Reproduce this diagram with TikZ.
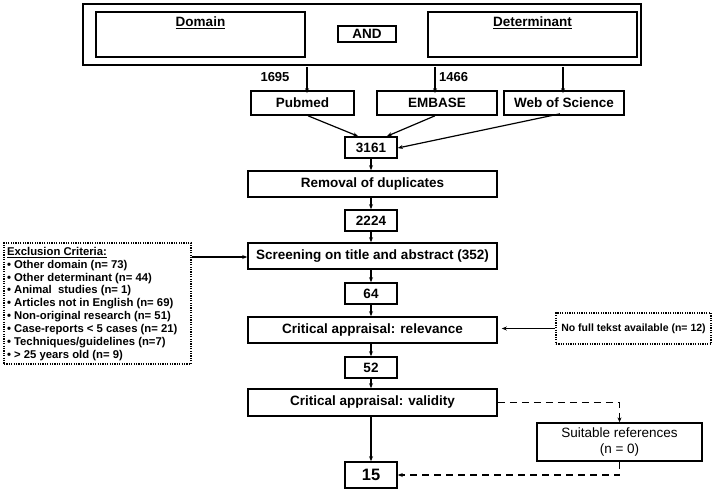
\documentclass[tikz,border=0pt]{standalone}
\usepackage{fontspec}
\setmainfont{Liberation Sans}
\usetikzlibrary{arrows.meta}
\begin{document}
\begin{tikzpicture}[x=1pt,y=-1pt,
  box/.style={draw,line width=1.6pt,inner sep=0pt,font=\fontsize{13.5}{16}\selectfont\bfseries},
  plainbox/.style={draw,line width=1.3pt,inner sep=0pt,font=\fontsize{13.5}{16}\selectfont,align=center},
  dotbox/.style={draw,line width=1.3pt,dash pattern=on 1.2pt off 1.2pt,inner sep=3pt,font=\fontsize{10.5}{12.9}\selectfont\bfseries},
  lbl/.style={inner sep=0pt,font=\fontsize{13}{15}\selectfont\bfseries},
  arr/.style={-{Stealth[length=5pt,width=4pt]},line width=1.2pt},
  darr/.style={-{Stealth[length=5pt,width=4pt]},line width=1.3pt,dash pattern=on 7pt off 5pt}]
\useasboundingbox (0,0) rectangle (715,494);

% search block
\node[draw,line width=1.4pt,minimum width=558pt,minimum height=61pt] (search) at (362,34.5) {};
\node[box,minimum width=209pt,minimum height=45pt] (dom) at (200.5,34.5) {};
\node[box,minimum width=209pt,minimum height=45pt] (det) at (532.5,34.5) {};
\node[box,minimum width=58pt,minimum height=16pt] (and) at (367,34) {AND};
\node[lbl,font=\fontsize{13.5}{16}\selectfont\bfseries] (domt) at (200.5,23) {\underline{Domain}};
\node[lbl,font=\fontsize{13.5}{16}\selectfont\bfseries] (dett) at (532.5,23) {\underline{Determinant}};

% databases
\node[box,minimum width=103pt,minimum height=24pt] (pub) at (302.5,103) {Pubmed};
\node[box,minimum width=120pt,minimum height=24pt] (emb) at (437,103) {EMBASE};
\node[box,minimum width=120pt,minimum height=24pt] (wos) at (564,103) {Web of Science};

\coordinate (pa) at (307,67);
\coordinate (ea) at (435,67);
\coordinate (wa) at (563,67);
\draw[arr] (pa) -- ([yshift=-3pt]pa |- pub.north);
\draw[arr] (ea) -- ([yshift=-3pt]ea |- emb.north);
\draw[arr] (wa) -- ([yshift=-3pt]wa |- wos.north);
\node[lbl] (l1695) at (275,77) {1695};
\node[lbl,anchor=west] (l1466) at (439,77) {1466};

% main column
\node[box,minimum width=52pt,minimum height=21pt] (n3161) at (371,147.5) {3161};
\node[box,minimum width=249pt,minimum height=26pt] (rem) at (372.5,184) {Removal of duplicates};
\node[box,minimum width=52pt,minimum height=21pt] (n2224) at (371,220.5) {2224};
\node[box,minimum width=249pt,minimum height=26pt] (scr) at (372.5,256) {Screening on title and abstract (352)};
\node[box,minimum width=52pt,minimum height=21pt] (n64) at (371,293.5) {64};
\node[box,minimum width=249pt,minimum height=26pt] (rel) at (372.5,330) {Critical appraisal: relevance};
\node[box,minimum width=52pt,minimum height=21pt] (n52) at (371,367.5) {52};
\node[box,minimum width=249pt,minimum height=27pt] (val) at (372.5,402.5) {Critical appraisal: validity};
\node[box,minimum width=52pt,minimum height=26pt,font=\fontsize{16.5}{18}\selectfont\bfseries] (n15) at (371,475) {15};
\node[plainbox,minimum width=165pt,minimum height=38pt] (suit) at (619.5,442) {Suitable references\\(n = 0)};

% side boxes
\node[dotbox,minimum width=187pt,minimum height=121pt] (excl) at (97.5,303.5) {};
\node[anchor=north west,inner sep=0pt,align=left,font=\fontsize{11.3}{12.9}\selectfont\bfseries] (excltxt) at ([xshift=3.5pt,yshift=-4.5pt]excl.north west) {%
\underline{Exclusion Criteria:}\\
• Other domain (n= 73)\\
• Other determinant (n= 44)\\
• Animal\ \ studies (n= 1)\\
• Articles not in English (n= 69)\\
• Non-original research (n= 51)\\
• Case-reports < 5 cases (n= 21)\\
• Techniques/guidelines (n=7)\\
• > 25 years old (n= 9)};
\node[dotbox,minimum width=155pt,minimum height=31pt] (nft) at (633.5,328.5) {No full tekst available (n= 12)};

% connectors
\draw[arr] (pub.south -| 308,0) -- ([xshift=-13pt]n3161.north);
\draw[arr] (emb.south -| 435,0) -- ([xshift=16pt]n3161.north);
\draw[arr] ([yshift=2pt]wos.south -| 560,0) -- ([yshift=-0.5pt]n3161.east);
\draw[arr] (n3161.south -| 371,0) -- (rem.north -| 371,0);
\draw[arr] (rem.south -| 371,0) -- (n2224.north);
\draw[arr] (n2224.south) -- (scr.north -| n2224.south);
\draw[arr] (scr.south -| n64.north) -- (n64.north);
\draw[arr] (n64.south) -- (rel.north -| n64.south);
\draw[arr] (rel.south -| n52.north) -- (n52.north);
\draw[arr] (n52.south) -- (val.north -| n52.south);
\draw[arr] (val.south -| n15.north) -- (n15.north);
\draw[arr] (excl.east |- 0,257) -- (scr.west |- 0,257);
\draw[arr,shorten >=4pt] (nft.west) -- (rel.east |- nft.west);
\draw[darr] (val.east) -- (suit.north |- val.east) -- (suit.north);
\draw[darr] (suit.south) -- (suit.south |- n15.east) -- (n15.east);
\end{tikzpicture}
\end{document}
